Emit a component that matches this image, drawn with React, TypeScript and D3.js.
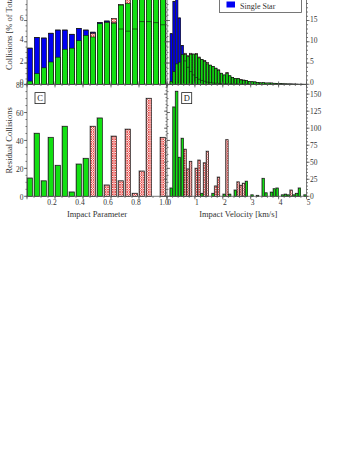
import React, { useEffect, useRef } from 'react';
import * as d3 from 'd3';

// impact parameter bins (left edge), width 0.05
const impactBins = [0, 0.05, 0.1, 0.15, 0.2, 0.25, 0.3, 0.35, 0.4, 0.45, 0.5, 0.55, 0.6, 0.65, 0.7, 0.75, 0.8, 0.85, 0.9, 0.95];
const impactSingle = [3.4, 4.4, 4.35, 4.8, 5.1, 5.1, 4.7, 5.25, 5.1, 4.9, 5.8, 5.95, 5.8, 5.2, 5.0, 5.2, 5.9, 5.9, 5.8, 5.6];
const impactBinary = [0.3, 1.0, 1.55, 2.1, 2.55, 3.3, 3.4, 4.1, 4.6, 4.45, 5.7, 5.8, 5.75, 7.45, 7.6, 8.3, 8.7, 9.0, 8.8, 8.5];
const impactExpected = [0.2, 0.8, 1.4, 1.8, 2.4, 3.0, 3.35, 3.9, 4.4, 4.8, 5.3, 5.85, 6.2, 7.5, 8.0, 8.32, 9.4, 10.3, 8.8, 9.3];
// residuals: positive = binary excess (green), negative = deficit (hatched)
const impactResidual = [13, 45, 11, 42, 22, 50, 3, 23, 27, -50, 56, -8, -43, -11, -48, -2, -18, -70, 0, -42];

// impact velocity bins (left edge, km/s), width 0.1
const velBins = [0, 0.1, 0.2, 0.3, 0.4, 0.5, 0.6, 0.7, 0.8, 0.9, 1.0, 1.1, 1.2, 1.3, 1.4, 1.5, 1.6, 1.7, 1.8, 1.9,
  2.0, 2.1, 2.2, 2.3, 2.4, 2.5, 2.6, 2.7, 2.8, 2.9, 3.0, 3.1, 3.2, 3.3, 3.4, 3.5, 3.6, 3.7, 3.8, 3.9,
  4.0, 4.1, 4.2, 4.3, 4.4, 4.5, 4.6, 4.7, 4.8, 4.9];
const velSingle = [0, 11.9, 19.5, 23, 15.6, 9.1, 5.5, 4.0, 3.0, 2.2, 1.6, 1.2, 0.9, 0.7, 0.5, 0.4, 0.3, 0.25, 0.2, 0.15,
  0.1, 0.1, 0.08, 0.06, 0.05, 0.04, 0.03, 0.02, 0.02, 0.01, 0, 0, 0, 0, 0, 0, 0, 0, 0, 0,
  0, 0, 0, 0, 0, 0, 0, 0, 0, 0];
const velBinary = [0, 0.7, 3.0, 4.8, 5.2, 7.0, 7.0, 6.5, 7.0, 7.1, 7.0, 6.2, 5.8, 5.4, 4.8, 4.5, 4.2, 3.7, 3.2, 2.6,
  2.2, 2.5, 2.0, 1.6, 1.4, 1.3, 1.0, 0.9, 0.9, 0.7, 0.6, 0.55, 0.45, 0.35, 0.4, 0.3, 0.3, 0.3, 0.25, 0.2,
  0.15, 0.12, 0.1, 0.08, 0.06, 0.05, 0.04, 0.03, 0.02, 0.02];
const velExpected = [0, 0.5, 2.4, 4.0, 4.9, 6.6, 7.3, 6.7, 7.3, 7.1, 7.2, 6.4, 5.8, 5.6, 5.1, 4.5, 4.15, 3.8, 3.4, 2.6,
  2.15, 2.8, 1.95, 1.6, 1.3, 1.4, 1.1, 1.0, 0.85, 0.7, 0.58, 0.55, 0.44, 0.35, 0.3, 0.28, 0.3, 0.27, 0.2, 0.15,
  0.12, 0.1, 0.08, 0.07, 0.08, 0.05, 0.03, 0.0, 0.02, 0.0];
const velResidual = [0, 12, 131, 154, 57, 85, -69, -40, -51, 0, -41, -53, 4, -49, -66, 0, 4, -15, -28, 0,
  3, -83, 3, 0, 9, -21, -16, -19, 22, 0, 2, 0, 1, 0, 26, 5, 0, 6, 11, 12,
  0, 2, 3, 2, -9, 2, 4, 12, 0, 2];

const aTicks = [0, 2, 4, 6];
const bTicks = [0, 5, 10, 15];
const cTicks = [0, 20, 40, 60, 80];
const dTicks = [0, 25, 50, 75, 100, 125, 150];
const impTicks = [0.2, 0.4, 0.6, 0.8, 1.0];
const velTicks = [0, 1, 2, 3, 4, 5];

const GREEN = '#12e012';
const BLUE = '#0000f2';
const AXIS = '#555';
const FONT = '"Liberation Serif", "DejaVu Serif", serif';

export default function App() {
  const ref = useRef<SVGSVGElement>(null);

  useEffect(() => {
    const svg = d3.select(ref.current);
    svg.selectAll('*').remove();

    const left = 27, mid = 167, right = 306.5;
    const topAB = -22, baseAB = 84.3, topCD = 84.6, baseCD = 196.3;

    const xImp = d3.scaleLinear().domain([0, 1]).range([left, mid]);
    const xVel = d3.scaleLinear().domain([0, 5]).range([mid, right]);
    const yA = d3.scaleLinear().domain([0, 10]).range([baseAB, topAB]);
    const yB = d3.scaleLinear().domain([0, 25]).range([baseAB, topAB]);
    const yC = d3.scaleLinear().domain([0, 80]).range([baseCD, topCD]);
    const yD = d3.scaleLinear().domain([0, 164]).range([baseCD, topCD]);

    const defs = svg.append('defs');
    const pat = defs.append('pattern')
      .attr('id', 'hatch')
      .attr('patternUnits', 'userSpaceOnUse')
      .attr('width', 2.4).attr('height', 2.4);
    pat.append('rect').attr('width', 2.4).attr('height', 2.4).attr('fill', '#fff');
    pat.append('path').attr('d', 'M0,0L2.4,2.4M2.4,0L0,2.4')
      .attr('stroke', '#e23a36').attr('stroke-width', 0.75);

    svg.append('rect').attr('width', 357).attr('height', 462).attr('fill', '#fff');

    // generic bar drawer
    const bars = (g, bins, vals, x, y, binW, frac, fill, opts: any = {}) => {
      const w = binW * frac;
      const data = vals.map((v, i) => ({ b: bins[i], v: Math.abs(v), s: v })).filter(d => d.v > 0);
      if (opts.shadow) {
        g.append('g').selectAll('rect').data(data).join('rect')
          .attr('x', d => x(d.b) - 0.6)
          .attr('y', d => y(d.v) - 0.8)
          .attr('width', w + 1.2)
          .attr('height', d => y(0) - y(d.v) + 0.8)
          .attr('fill', '#9c9c9c');
      }
      g.append('g').selectAll('rect').data(data).join('rect')
        .attr('x', d => x(d.b) + 0.3)
        .attr('y', d => y(d.v))
        .attr('width', w)
        .attr('height', d => y(0) - y(d.v))
        .attr('fill', typeof fill === 'function' ? fill : () => fill)
        .attr('stroke', opts.stroke || '#111')
        .attr('stroke-width', 0.6);
    };

    const outline = (g, bins, vals, x, y, binW, frac) => {
      const w = binW * frac;
      g.append('g').selectAll('path')
        .data(vals.map((v, i) => ({ b: bins[i], v })).filter(d => d.v > 0))
        .join('path')
        .attr('d', d => `M${x(d.b) + 0.3},${y(d.v)}h${w}`)
        .attr('stroke', '#111').attr('stroke-width', 0.6);
    };

    const maxOf = (...arrs) => arrs[0].map((_, i) => d3.max(arrs, a => a[i]));

    const impW = xImp(0.05) - xImp(0);
    const velW = xVel(0.1) - xVel(0);
    const impF = 0.72, velF = 0.8;

    // Panel A
    const gA = svg.append('g');
    bars(gA, impactBins, maxOf(impactSingle, impactBinary, impactExpected), xImp, yA, impW, impF, '#9c9c9c', { stroke: '#9c9c9c' });
    bars(gA, impactBins, impactSingle, xImp, yA, impW, impF, BLUE);
    bars(gA, impactBins, impactExpected, xImp, yA, impW, impF, 'url(#hatch)');
    bars(gA, impactBins, impactBinary, xImp, yA, impW, impF, GREEN);
    outline(gA, impactBins, impactSingle, xImp, yA, impW, impF);

    // Panel B
    const gB = svg.append('g');
    bars(gB, velBins, maxOf(velSingle, velBinary, velExpected), xVel, yB, velW, velF, '#9c9c9c', { stroke: '#9c9c9c' });
    bars(gB, velBins, velSingle, xVel, yB, velW, velF, BLUE);
    bars(gB, velBins, velExpected, xVel, yB, velW, velF, 'url(#hatch)');
    bars(gB, velBins, velBinary, xVel, yB, velW, velF, GREEN);
    outline(gB, velBins, velSingle, xVel, yB, velW, velF);

    // Panels C and D: residuals
    const resFill = d => (d.s > 0 ? GREEN : 'url(#hatch)');
    bars(svg.append('g'), impactBins, impactResidual, xImp, yC, impW, impF, resFill, { shadow: true });
    bars(svg.append('g'), velBins, velResidual, xVel, yD, velW, velF, resFill, { shadow: true });

    // frame
    const ax = svg.append('g').attr('stroke', AXIS).attr('stroke-width', 0.8).attr('fill', 'none');
    [left, mid, right].forEach(xp => {
      ax.append('line').attr('x1', xp).attr('x2', xp).attr('y1', topAB).attr('y2', baseCD);
    });
    const midY = (baseAB + topCD) / 2;
    ax.append('line').attr('x1', left).attr('x2', right).attr('y1', midY).attr('y2', midY);
    ax.append('line').attr('x1', left).attr('x2', right).attr('y1', baseCD).attr('y2', baseCD);

    // y ticks: outward on both edges of each panel
    const yTicks = (y, majors, minorStep, max, x0, x1) => {
      const minors = d3.range(0, max + 1e-6, minorStep);
      [[x0, -1], [x1, 1]].forEach(([xp, dir]) => {
        ax.append('g').selectAll('line').data(minors).join('line')
          .attr('x1', xp).attr('x2', xp + dir * 1.5)
          .attr('y1', d => y(d)).attr('y2', d => y(d));
        ax.append('g').selectAll('line').data(majors).join('line')
          .attr('x1', xp).attr('x2', xp + dir * 3)
          .attr('y1', d => y(d)).attr('y2', d => y(d));
      });
    };
    yTicks(yA, d3.range(0, 10.01, 2), 0.5, 10, left, mid);
    yTicks(yB, d3.range(0, 25.01, 5), 1, 25, mid, right);
    yTicks(yC, cTicks, 5, 80, left, mid);
    yTicks(yD, dTicks, 5, 164, mid, right);

    // x ticks: outward at bottom, and both ways at the middle boundary
    const xTicks = (x, majors, minorStep, max, yp, dir) => {
      const minors = d3.range(0, max + 1e-6, minorStep);
      ax.append('g').selectAll('line').data(minors).join('line')
        .attr('x1', d => x(d)).attr('x2', d => x(d))
        .attr('y1', yp).attr('y2', yp + dir * 1.5);
      ax.append('g').selectAll('line').data(majors).join('line')
        .attr('x1', d => x(d)).attr('x2', d => x(d))
        .attr('y1', yp).attr('y2', yp + dir * 3);
    };
    xTicks(xImp, d3.range(0, 1.001, 0.2), 0.05, 1, baseCD, 1);
    xTicks(xImp, d3.range(0, 1.001, 0.2), 0.05, 1, midY, 1);
    xTicks(xImp, d3.range(0, 1.001, 0.2), 0.05, 1, midY, -1);
    xTicks(xVel, d3.range(0, 5.001, 1), 0.2, 5, baseCD, 1);
    xTicks(xVel, d3.range(0, 5.001, 1), 0.2, 5, midY, 1);
    xTicks(xVel, d3.range(0, 5.001, 1), 0.2, 5, midY, -1);

    // tick labels
    const txt = svg.append('g').attr('font-family', FONT).attr('fill', '#333');
    const yLabels = (y, vals, xp, anchor, dy) => {
      txt.append('g').selectAll('text').data(vals).join('text')
        .attr('x', xp).attr('y', d => y(d) + dy).attr('dy', '0.35em')
        .attr('text-anchor', anchor).attr('font-size', 7.5)
        .text(d => d);
    };
    yLabels(yA, aTicks, 23.5, 'end', -2);
    yLabels(yB, bTicks, 310, 'start', -1.5);
    yLabels(yC, cTicks, 23.5, 'end', 1);
    yLabels(yD, dTicks, 310, 'start', 0.5);

    txt.append('g').selectAll('text').data(impTicks).join('text')
      .attr('x', d => xImp(d) - 3).attr('y', 202.5).attr('dy', '0.35em')
      .attr('text-anchor', 'middle').attr('font-size', 7.5)
      .text(d => d3.format('.1f')(d));
    txt.append('g').selectAll('text').data(velTicks).join('text')
      .attr('x', d => xVel(d) + 2).attr('y', 202.5).attr('dy', '0.35em')
      .attr('text-anchor', 'middle').attr('font-size', 7.5)
      .text(d => d);

    // axis titles
    txt.append('text').attr('x', (left + mid) / 2).attr('y', 216.5)
      .attr('text-anchor', 'middle').attr('font-size', 8.5).text('Impact Parameter');
    txt.append('text').attr('x', (mid + right) / 2 + 1.5).attr('y', 216.5)
      .attr('text-anchor', 'middle').attr('font-size', 8.5).text('Impact Velocity [km/s]');
    txt.append('text')
      .attr('transform', `translate(12,${(topAB + baseAB) / 2}) rotate(-90)`)
      .attr('text-anchor', 'middle').attr('font-size', 8.5).text('Collisions [% of Total]');
    txt.append('text')
      .attr('transform', `translate(12,${(topCD + baseCD) / 2}) rotate(-90)`)
      .attr('text-anchor', 'middle').attr('font-size', 8.5).text('Residual Collisions');

    // panel letters
    const letter = (xp, yp, s) => {
      const g = svg.append('g');
      g.append('rect').attr('x', xp).attr('y', yp).attr('width', 10).attr('height', 11)
        .attr('fill', '#fff').attr('stroke', '#222').attr('stroke-width', 0.8);
      g.append('text').attr('x', xp + 5).attr('y', yp + 8.6).attr('text-anchor', 'middle')
        .attr('font-family', FONT).attr('font-size', 8.5).attr('fill', '#222').text(s);
    };
    letter(left + 8, topCD + 8, 'C');
    letter(mid + 14.7, topCD + 8, 'D');

    // legend (top cropped)
    const lg = svg.append('g');
    lg.append('rect').attr('x', 219.5).attr('y', -22).attr('width', 82).attr('height', 34.5)
      .attr('fill', '#fff').attr('stroke', AXIS).attr('stroke-width', 0.8);
    lg.append('rect').attr('x', 226.5).attr('y', -8.5).attr('width', 8.5).attr('height', 6).attr('fill', GREEN);
    lg.append('text').attr('x', 240).attr('y', -2).attr('font-family', FONT).attr('font-size', 8)
      .attr('fill', '#333').text('Binary Star [Wide]');
    lg.append('rect').attr('x', 226.5).attr('y', 1.5).attr('width', 8.5).attr('height', 6).attr('fill', BLUE);
    lg.append('text').attr('x', 240).attr('y', 8.5).attr('font-family', FONT).attr('font-size', 8)
      .attr('fill', '#333').text('Single Star');
  }, []);

  return (
    <svg ref={ref} width={357} height={462} style={{ position: 'absolute', left: 0, top: 0 }}></svg>
  );
}
